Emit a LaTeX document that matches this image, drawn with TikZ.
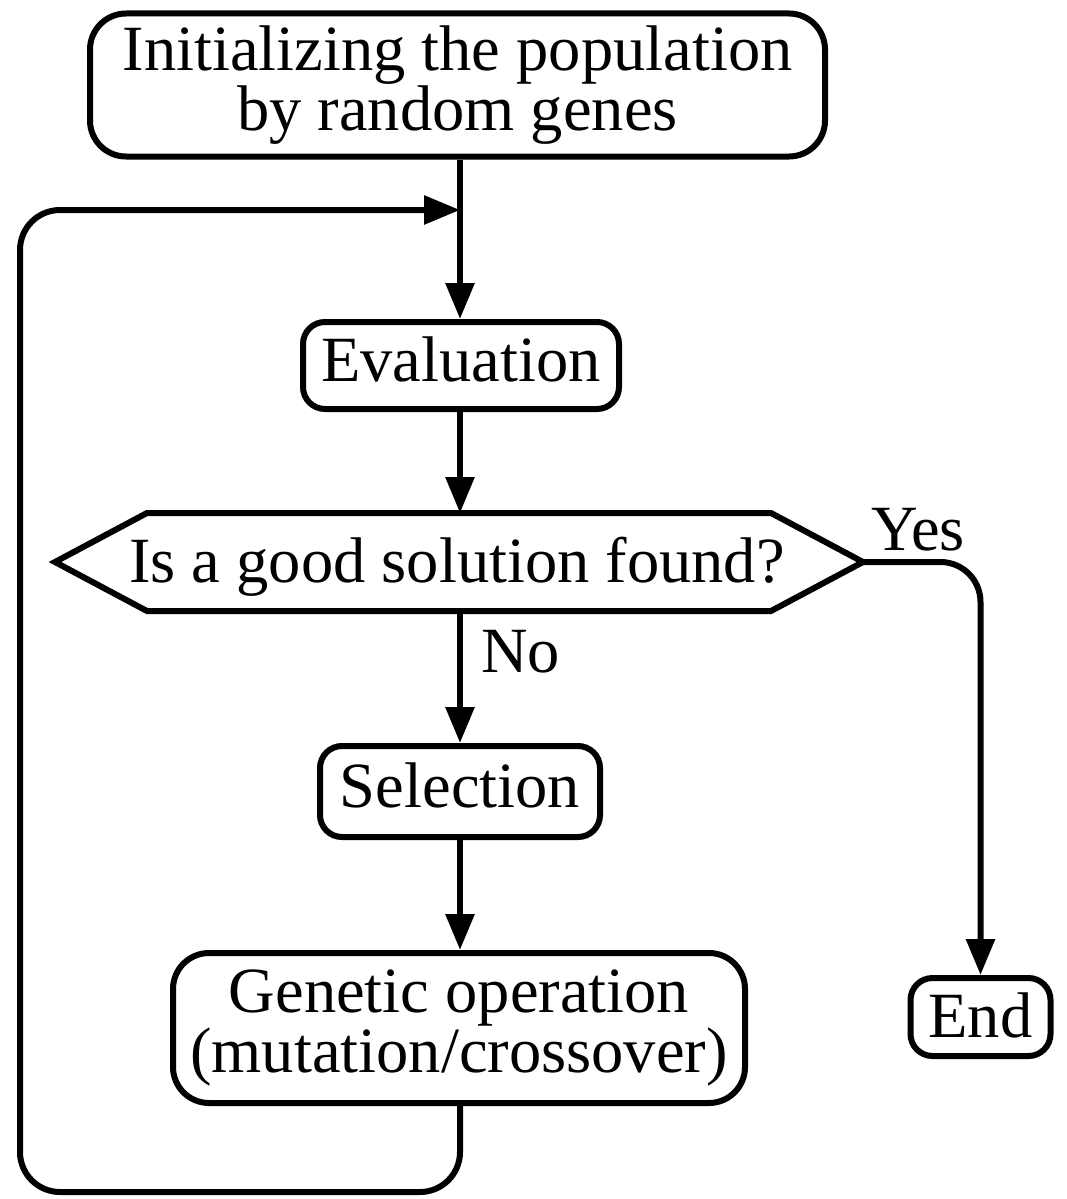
\documentclass[tikz,border=0pt]{standalone}
\usepackage{fontspec}
\setmainfont{Liberation Serif}
\usetikzlibrary{arrows.meta}
\begin{document}
\begin{tikzpicture}[x=1pt,y=-1pt,
  line width=6pt,
  every node/.style={font=\fontsize{64.5pt}{51pt}\selectfont, inner sep=0pt},
  box/.style={draw, rounded corners=22pt, line width=6pt, align=center},
  bigbox/.style={box, rounded corners=36pt},
  arr/.style={-{Triangle[length=36pt,width=28pt]}},
  lbl/.style={anchor=base west}
]
\useasboundingbox (0,0) rectangle (1066,1199);

% boxes
\node[bigbox, minimum width=735pt, minimum height=143pt] (init) at (457.5,85)
  {Initializing the population\\by random genes};
\node[box, minimum width=316pt, minimum height=87pt, text height=45pt, text depth=14pt] (eval) at (461,365.5) {Evaluation};
\node[box, minimum width=280pt, minimum height=91pt, text height=45pt, text depth=14pt] (sel) at (460,791.5) {Selection};
\node[bigbox, minimum width=572pt, minimum height=150pt] (gen) at (459,1028)
  {Genetic operation\\(mutation/crossover)};
\node[box, minimum width=140pt, minimum height=78pt, text height=45pt, text depth=4pt] (end) at (980.5,1017) {End};

% decision hexagon
\coordinate (hL) at (55,562);
\coordinate (hR) at (863,562);
\coordinate (hT) at (460,513);
\coordinate (hB) at (460,611);
\draw[line join=miter] (hL) -- (147,513) -- (771,513) -- (hR) -- (771,611) -- (147,611) -- cycle;
\node[anchor=base] (dec) at (457,582) {Is a good solution found?};

% labels
\node[lbl] (yes) at (868,550) {Yes};
\node[lbl] (no) at (478,672) {No};

% connectors
\coordinate (join) at (460,210);
\coordinate (loopBR) at (460,1192);
\coordinate (loopBL) at (20,1192);
\coordinate (loopTL) at (20,210);

\draw (init.south -| join) -- (join);
\draw[arr] (join) -- (eval.north -| join);
\draw[arr] (eval.south -| hT) -- (hT);
\draw[arr] (hB) -- (sel.north -| hB);
\draw[arr] (sel.south) -- (sel.south |- gen.north);
\draw[arr, rounded corners=40pt] (hR) -| (end.north);
\draw[arr, rounded corners=40pt] (gen.south -| join) -- (loopBR) -- (loopBL) -- (loopTL) -- (join);
\end{tikzpicture}
\end{document}
